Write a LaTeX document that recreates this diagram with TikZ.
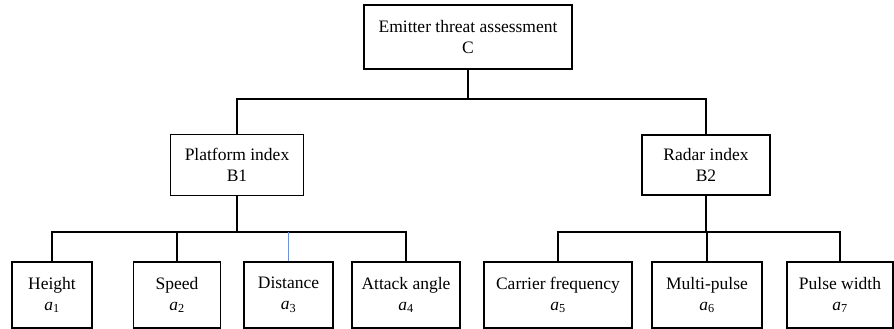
\documentclass[tikz,border=0pt]{standalone}
\usepackage{fontspec}
\setmainfont{Liberation Serif}
\usetikzlibrary{calc}
\definecolor{bluel}{RGB}{110,145,215}
\begin{document}
\begin{tikzpicture}[x=1pt,y=-1pt,
  box/.style={draw,line width=1.1pt,inner sep=0pt,align=center,font=\fontsize{17.5}{21}\selectfont},
  conn/.style={line width=1.1pt}]
\useasboundingbox (0,0) rectangle (894,329);
\node[box,minimum width=208,minimum height=64] (C) at (468,37) {Emitter threat assessment\\C};
\node[box,minimum width=133,minimum height=61] (B1) at (237,165) {Platform index\\B1};
\node[box,minimum width=128,minimum height=60] (B2) at (706,165) {Radar index\\B2};
\node[box,minimum width=80,minimum height=66] (a1) at (52,295) {Height\\\textit{a}\textsubscript{1}};
\node[box,minimum width=87,minimum height=66] (a2) at (177,295) {Speed\\\textit{a}\textsubscript{2}};
\node[box,minimum width=89,minimum height=66] (a3) at (288.5,295) {Distance\\\textit{a}\textsubscript{3}};
\node[box,minimum width=108,minimum height=66] (a4) at (406,295) {Attack angle\\\textit{a}\textsubscript{4}};
\node[box,minimum width=148,minimum height=66] (a5) at (558,295) {Carrier frequency\\\textit{a}\textsubscript{5}};
\node[box,minimum width=110,minimum height=66] (a6) at (707,295) {Multi-pulse\\\textit{a}\textsubscript{6}};
\node[box,minimum width=106,minimum height=66] (a7) at (840,295) {Pulse width\\\textit{a}\textsubscript{7}};
\coordinate (jC) at (468,99);
\coordinate (j1) at (237,232);
\coordinate (j2) at (706,232);
\draw[conn] (C.south) -- (jC);
\draw[conn] (jC) -| (B1.north);
\draw[conn] (jC) -| (B2.north);
\draw[conn] (B1.south) -- (j1);
\draw[conn] (j1) -| (a1.north);
\draw[conn] (j1) -| (a2.north);
\draw[conn] (j1) -| (a4.north);
\draw[conn,bluel] (j1 -| a3.north) -- (a3.north);
\draw[conn] (B2.south) -- (j2);
\draw[conn] (j2) -| (a5.north);
\draw[conn] (j2) -| (a7.north);
\draw[conn] (j2 -| a6.north) -- (a6.north);
\end{tikzpicture}
\end{document}
